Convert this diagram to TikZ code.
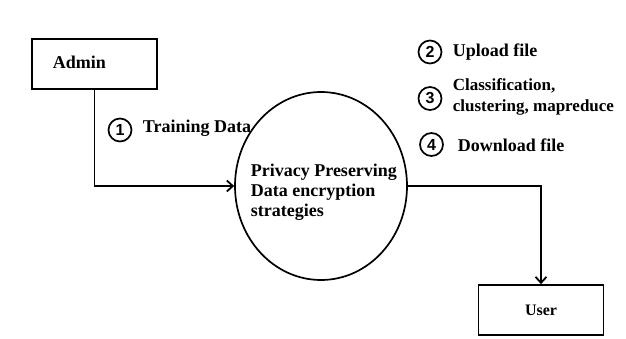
\documentclass[tikz,border=0pt]{standalone}
\usepackage{fontspec}
\setmainfont{Liberation Serif}
\newfontfamily\numfont{Liberation Sans}
\usetikzlibrary{arrows.meta,shapes.geometric}
\begin{document}
\begin{tikzpicture}[x=1pt,y=-1pt,
  line width=1.7pt,
  lbl/.style={font=\fontsize{18}{20}\selectfont\bfseries, inner sep=0pt, anchor=west, align=left},
  numc/.style={circle, draw, line width=1.7pt, minimum size=23pt, inner sep=0pt, font=\fontsize{16}{16}\selectfont\numfont\bfseries},
  entity/.style={draw, line width=1.7pt, minimum width=125pt, minimum height=50pt, inner sep=0pt},
  flow/.style={-{Straight Barb[length=6pt,width=11pt,line width=1.8pt]}, line width=1.7pt}
]
\useasboundingbox[fill=white] (0,0) rectangle (626,339);
% entities
\node[entity] (admin) at (94.5,64) {};
\node[lbl] (admint) at (52,62) {Admin};
\node[entity] (user) at (541,310) {};
\node[font=\fontsize{16}{18}\selectfont\bfseries, inner sep=0pt] (usert) at (541,310) {User};
% process
\node[ellipse, draw, line width=1.7pt, minimum width=172pt, minimum height=188pt, inner sep=0pt] (proc) at (321,186) {};
\node[lbl] (proct) at (250,192) {Privacy Preserving\\Data encryption\\strategies};
% connectors
\coordinate (bend1) at (admin.south |- proc.west);
\draw[flow] (admin.south) -- (bend1) -- (proc.west);
\coordinate (bend2) at (user.north |- proc.east);
\draw[flow] (proc.east) -- (bend2) -- (user.north);
% labels
\node[numc] (n1) at (120,130) {1};
\node[lbl] (l1) at (142,128) {Training Data};
\node[numc] (n2) at (430,52) {2};
\node[lbl] (l2) at (452,52) {Upload file};
\node[numc] (n3) at (430,98.5) {3};
\node[lbl, font=\fontsize{17}{21}\selectfont\bfseries] (l3) at (452,97) {Classification,\\clustering, mapreduce};
\node[numc] (n4) at (431.5,144.5) {4};
\node[lbl] (l4) at (457,145) {Download file};
\end{tikzpicture}
\end{document}
